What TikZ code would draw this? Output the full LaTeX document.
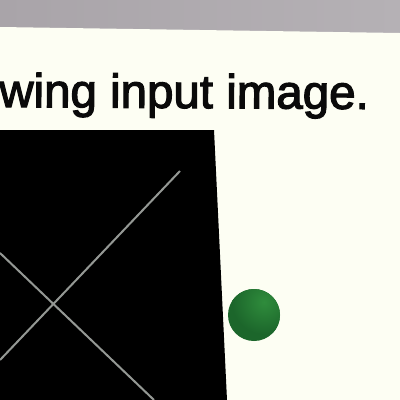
\documentclass[tikz,border=0pt]{standalone}
\usepackage{fontspec}
\setmainfont{Liberation Sans}
\begin{document}
\begin{tikzpicture}[x=1pt,y=-1pt]
\definecolor{board}{HTML}{FDFEF3}
\definecolor{wall}{HTML}{A9A4A9}
\definecolor{wallhi}{HTML}{B5B1B5}
\definecolor{xline}{HTML}{949894}
\definecolor{ballbase}{HTML}{1C662B}
\definecolor{balllight}{HTML}{2F8C3C}
\definecolor{textcol}{HTML}{0A0A0A}
\tikzset{xstroke/.style={draw=xline,line width=2pt}}
\useasboundingbox (0,0) rectangle (400,400);
% background wall
\shade[left color=wall,right color=wallhi] (0,0) rectangle (400,400);
% board
\fill[board] (0,27) -- (400,33) -- (400,400) -- (0,400) -- cycle;
% text
\node[anchor=base west,inner sep=0pt,text=textcol,font=\fontsize{47.5}{50}\selectfont,rotate=-0.3] (caption) at (-1,107) {\addfontfeature{FakeBold=2.5}wing input image.};
% black image
\fill[black] (0,130) -- (214,130) -- (227,400) -- (0,400) -- cycle;
\coordinate (a1) at (180,171);
\coordinate (a2) at (0,360);
\coordinate (b1) at (0,253);
\coordinate (b2) at (154,400);
\draw[xstroke] (a1) -- (a2);
\draw[xstroke] (b1) -- (b2);
% green sphere
\fill[ballbase] (254,315) circle (26);
\begin{scope}
\clip (254,315) circle (26);
\shade[inner color=balllight,outer color=ballbase] (264,302) circle (32);
\end{scope}
\end{tikzpicture}
\end{document}
